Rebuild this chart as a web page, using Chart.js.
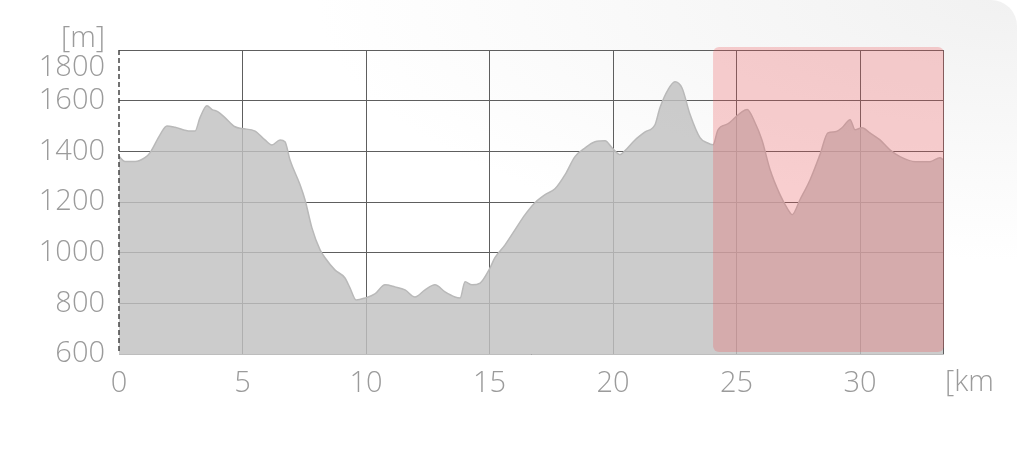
<!DOCTYPE html>
<html>
<head>
<meta charset="utf-8">
<script src="https://cdn.jsdelivr.net/npm/chart.js@4/dist/chart.umd.min.js"></script>
<style>
  html, body { margin: 0; padding: 0; background: #fff; }
  #wrap {
    position: relative; width: 1024px; height: 464px; overflow: hidden; background: #fff;
  }
  #card {
    position: absolute; left: 0; top: 0; width: 1017px; height: 464px;
    border-top-right-radius: 26px;
    background: radial-gradient(ellipse 700px 260px at 100% 0%, #f1f1f1 0%, #f6f6f6 35%, #ffffff 100%);
  }
  #chart { position: absolute; left: 0; top: 0; }
</style>
</head>
<body>
<div id="wrap">
  <div id="card"></div>
  <canvas id="chart" width="1024" height="464"></canvas>
</div>
<script>
// distance along the route [km] and elevation [m]
const distKm = [
  0, 0.24, 0.65, 1.05, 1.26, 1.66, 1.94, 2.27, 2.87, 3.08, 3.28, 3.56, 3.77, 4.01, 4.29, 4.70, 4.98,
  5.51, 5.91, 6.19, 6.52, 6.72, 6.92, 7.33, 7.53, 7.81, 8.14, 8.34, 8.74, 9.15, 9.35, 9.60, 9.96,
  10.36, 10.77, 11.17, 11.58, 11.98, 12.39, 12.79, 13.20, 13.60, 13.81, 14.01, 14.29, 14.62, 14.98,
  15.22, 15.63, 16.03, 16.44, 16.84, 17.25, 17.65, 18.06, 18.46, 18.87, 19.27, 19.68, 19.96,
  20.28, 20.49, 20.89, 21.30, 21.70, 21.90, 22.23, 22.51, 22.79, 23.12, 23.52, 23.81, 24.05,
  24.25, 24.66, 24.94, 25.22, 25.43, 25.75, 26.03, 26.36, 26.76, 27.09, 27.25, 27.57, 27.98,
  28.38, 28.70, 28.99, 29.27, 29.60, 29.80, 30.08, 30.40, 30.81, 31.21, 31.62, 32.23, 32.83,
  33.24, 33.36
];
const elevM = [
  1380, 1360, 1360, 1375, 1395, 1465, 1500, 1495, 1480, 1480, 1533, 1580, 1565, 1556, 1533, 1497, 1490,
  1480, 1445, 1425, 1445, 1438, 1367, 1268, 1209, 1098, 1011, 980, 932, 900, 861, 813, 821,
  837, 873, 865, 853, 825, 853, 873, 845, 825, 821, 885, 873, 880, 932,
  980, 1031, 1090, 1150, 1197, 1229, 1252, 1308, 1379, 1414, 1438, 1442, 1414,
  1387, 1403, 1445, 1477, 1505, 1572, 1644, 1675, 1651, 1545, 1454, 1434, 1426,
  1485, 1509, 1533, 1556, 1565, 1513, 1445, 1327, 1229, 1169, 1150, 1209, 1288,
  1387, 1473, 1477, 1493, 1525, 1485, 1493, 1473, 1445, 1406, 1379, 1359, 1359,
  1375, 1367
];
const xTicks = [0, 5, 10, 15, 20, 25, 30];
const yTicks = [600, 800, 1000, 1200, 1400, 1600, 1800];
const routeEnd = 33.36;
// highlighted section of the route
const highlightFrom = 24.05;
const highlightTo = 33.36;

const LABEL_COLOR = '#9b9b9b';
const FONT = { family: '"Open Sans", Lato, "Liberation Sans", sans-serif', size: 29, weight: '300' };

const points = distKm.map((d, i) => ({ x: d, y: elevM[i] }));

// highlight box, dashed left axis, unit labels, shifted top label
const extras = {
  id: 'extras',
  afterDatasetsDraw(chart) {
    const { ctx, chartArea, scales } = chart;
    const x0 = scales.x.getPixelForValue(highlightFrom);
    const x1 = scales.x.getPixelForValue(highlightTo) + 1;
    ctx.save();
    ctx.fillStyle = 'rgba(238,85,90,0.28)';
    ctx.beginPath();
    ctx.roundRect(x0, chartArea.top - 3, x1 - x0, chartArea.bottom - chartArea.top + 1, 6);
    ctx.fill();
    ctx.restore();
  },
  afterDraw(chart) {
    const { ctx, chartArea, scales } = chart;
    ctx.save();
    ctx.strokeStyle = '#444';
    ctx.lineWidth = 1.5;
    ctx.setLineDash([5, 3]);
    ctx.beginPath();
    ctx.moveTo(chartArea.left, chartArea.top);
    ctx.lineTo(chartArea.left, chartArea.bottom);
    ctx.stroke();
    ctx.setLineDash([]);

    ctx.font = `${FONT.weight} ${FONT.size}px ${FONT.family}`;
    ctx.fillStyle = LABEL_COLOR;
    ctx.textBaseline = 'middle';
    ctx.textAlign = 'right';
    ctx.fillText('1800', chartArea.left - 14, scales.y.getPixelForValue(1800) + 18);
    ctx.fillText('[m]', chartArea.left - 14, chartArea.top - 11);
    ctx.textAlign = 'left';
    ctx.fillText('[km', chartArea.right + 2, chartArea.bottom + 29);
    ctx.restore();
  }
};

new Chart(document.getElementById('chart'), {
  type: 'line',
  data: {
    datasets: [{
      data: points,
      borderColor: '#b9b9b9',
      borderWidth: 1.5,
      backgroundColor: 'rgba(193,193,193,0.82)',
      fill: 'start',
      pointRadius: 0,
      cubicInterpolationMode: 'monotone'
    }]
  },
  options: {
    responsive: false,
    animation: false,
    layout: { padding: { top: 50, right: 81, left: 0, bottom: 0 } },
    plugins: { legend: { display: false }, tooltip: { enabled: false } },
    scales: {
      x: {
        type: 'linear',
        min: 0,
        max: routeEnd,
        afterBuildTicks: s => { s.ticks = xTicks.concat([routeEnd]).map(v => ({ value: v })); },
        afterFit: s => { s.height = 110; },
        ticks: {
          color: LABEL_COLOR, font: FONT, padding: 12,
          callback: v => (xTicks.includes(v) ? String(v) : '')
        },
        grid: {
          drawTicks: false,
          lineWidth: 1,
          color: c => (c.tick && c.tick.value === 0 ? 'rgba(0,0,0,0)' : '#5e5e5e')
        },
        border: { display: true, color: '#bdbdbd', width: 1 }
      },
      y: {
        min: 600,
        max: 1800,
        afterBuildTicks: s => { s.ticks = yTicks.map(v => ({ value: v })); },
        afterFit: s => { s.width = 119; },
        ticks: {
          color: LABEL_COLOR, font: FONT, padding: 14,
          callback: v => (v === 1800 ? '' : String(v))
        },
        grid: { drawTicks: false, lineWidth: 1, color: '#5e5e5e' },
        border: { display: false }
      }
    }
  },
  plugins: [extras]
});
</script>
</body>
</html>
